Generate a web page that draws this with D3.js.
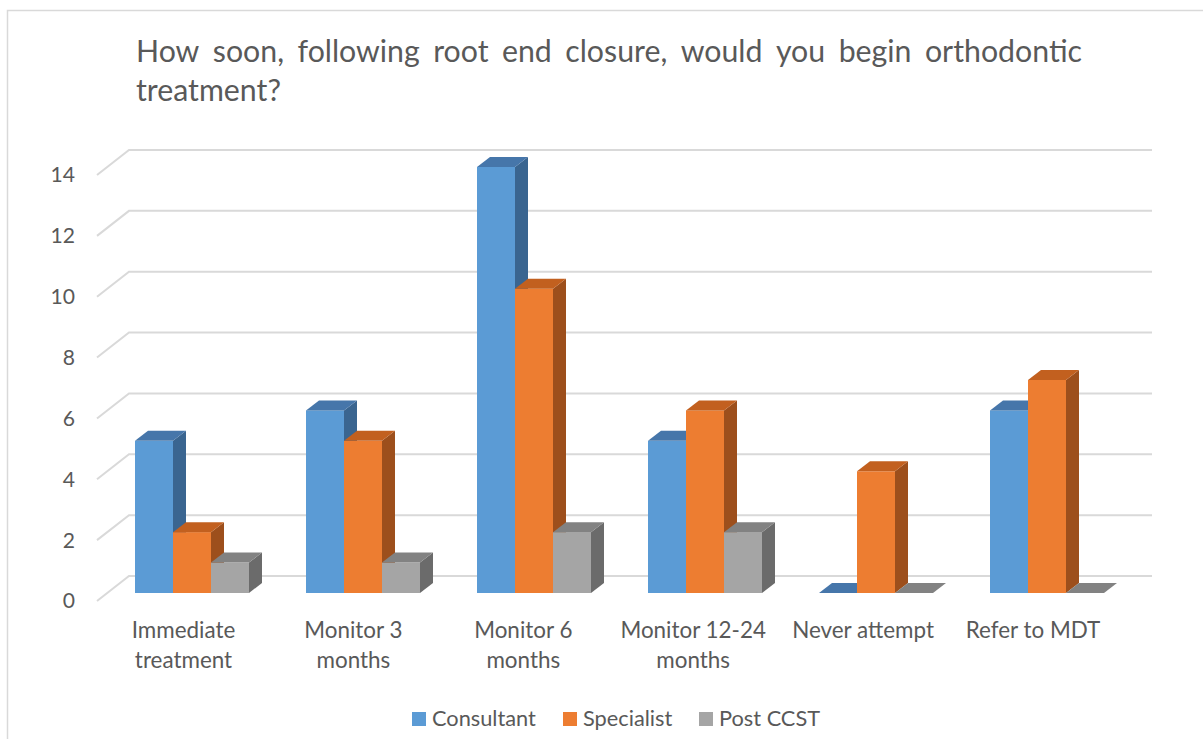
<!DOCTYPE html>
<html>
<head>
<meta charset="utf-8">
<script src="https://cdn.jsdelivr.net/npm/d3@7"></script>
<style>
  html, body { margin: 0; padding: 0; background: #fff; }
  svg { display: block; }
</style>
</head>
<body>
<svg id="chart" width="1203" height="739"></svg>
<script>
// ---------------- DATA ----------------
const categories = ["Immediate treatment", "Monitor 3 months", "Monitor 6 months", "Monitor 12-24 months", "Never attempt", "Refer to MDT"];
const categoryLines = [["Immediate", "treatment"], ["Monitor 3", "months"], ["Monitor 6", "months"], ["Monitor 12-24", "months"], ["Never attempt"], ["Refer to MDT"]];
const seriesNames = ["Consultant", "Specialist", "Post CCST"];
const consultant = [5, 6, 14, 5, 0, 6];
const specialist = [2, 5, 10, 6, 4, 7];
const postCCST = [1, 1, 2, 2, 0, 0];
const yTicks = [0, 2, 4, 6, 8, 10, 12, 14];
const titleLine1 = "How soon, following root end closure, would you begin orthodontic";
const titleLine2 = "treatment?";

// ---------------- STYLE ----------------
const FONT = "Lato, 'Open Sans', sans-serif";
const TEXT = "#595959";
const GRID = "#D9D9D9";
const colors = {
  Consultant: { front: "#5B9BD5", top: "#4676AA", side: "#3A6590" },
  Specialist: { front: "#ED7D31", top: "#C2601F", side: "#9D4F1C" },
  "Post CCST": { front: "#A5A5A5", top: "#828282", side: "#6B6B6B" }
};
const DX = 13, DY = -10;          // bar depth offset
const BACK_DY = -17;              // back wall vs front plane
const SLANT_DX = 32, SLANT_DY = 25;

const svg = d3.select("#chart");

function fitSize(text, width) {
  const t = svg.append("text").attr("font-family", FONT).attr("font-size", 100).text(text);
  const w = t.node().getComputedTextLength();
  t.remove();
  return 100 * width / w;
}

// chart border
svg.append("rect").attr("x", 7.5).attr("y", 10.5).attr("width", 1400).attr("height", 900)
  .attr("fill", "#fff").attr("stroke", GRID).attr("stroke-width", 1.5);

// scales
const y = d3.scaleLinear().domain([0, 14]).range([593, 167]);
const x0 = d3.scaleBand().domain(categories).range([106.5, 1132.5]).paddingInner(57 / 171).paddingOuter(28.5 / 171);
const x1 = d3.scaleBand().domain(seriesNames).range([0, x0.bandwidth()]);
const xLabel = d3.scalePoint().domain(categories).range([183.5, 1033]);

// gridlines (back wall + side wall slants)
const gridG = svg.append("g");
yTicks.forEach(v => {
  const yb = y(v) + BACK_DY;
  gridG.append("path")
    .attr("d", `M97,${yb + SLANT_DY} L${97 + SLANT_DX},${yb} L1152,${yb}`)
    .attr("fill", "none").attr("stroke", GRID).attr("stroke-width", 2);
});

// y tick labels
const tickSize = fitSize("14", 24.5);
svg.append("g").selectAll("text").data(yTicks).join("text")
  .attr("x", 75).attr("y", d => y(d) + BACK_DY + SLANT_DY)
  .attr("dy", "0.35em").attr("text-anchor", "end")
  .attr("font-family", FONT).attr("font-size", tickSize).attr("fill", TEXT)
  .text(d => d);

// bars
const seriesData = [consultant, specialist, postCCST];
const barsG = svg.append("g");
categories.forEach((cat, ci) => {
  seriesNames.forEach((s, si) => {
    const v = seriesData[si][ci];
    const xl = x0(cat) + x1(s);
    const xr = xl + x1.bandwidth();
    const yt = y(v), yb = y(0);
    const c = colors[s];
    const g = barsG.append("g");
    if (v > 0) {
      g.append("rect").attr("x", xl).attr("y", yt).attr("width", xr - xl).attr("height", yb - yt)
        .attr("fill", c.front);
      g.append("path")
        .attr("d", `M${xr},${yt} L${xr + DX},${yt + DY} L${xr + DX},${yb + DY} L${xr},${yb} Z`)
        .attr("fill", c.side);
    }
    g.append("path")
      .attr("d", `M${xl},${yt} L${xl + DX},${yt + DY} L${xr + DX},${yt + DY} L${xr},${yt} Z`)
      .attr("fill", c.top);
  });
});

// category labels
const catSize = fitSize("Never attempt", 142);
const labG = svg.append("g");
categories.forEach((cat, ci) => {
  const t = labG.append("text").attr("x", xLabel(cat)).attr("y", 638)
    .attr("text-anchor", "middle").attr("font-family", FONT).attr("font-size", catSize).attr("fill", TEXT);
  categoryLines[ci].forEach((ln, li) => {
    t.append("tspan").attr("x", xLabel(cat)).attr("y", 638 + li * 30).text(ln);
  });
});

// title (justified first line)
const titleSize = fitSize(titleLine2, 145);
const words = titleLine1.split(" ");
const wWidths = words.map(w => {
  const t = svg.append("text").attr("font-family", FONT).attr("font-size", titleSize).text(w);
  const wd = t.node().getComputedTextLength(); t.remove(); return wd;
});
const tLeft = 136, tRight = 1082;
const gap = (tRight - tLeft - d3.sum(wWidths)) / (words.length - 1);
let cx = tLeft;
const titleG = svg.append("g").attr("font-family", FONT).attr("font-size", titleSize).attr("fill", TEXT);
words.forEach((w, i) => {
  titleG.append("text").attr("x", cx).attr("y", 62).text(w);
  cx += wWidths[i] + gap;
});
titleG.append("text").attr("x", tLeft).attr("y", 101).text(titleLine2);

// legend
const legSize = fitSize("Consultant", 104);
const legX = [412, 563, 699];
const legG = svg.append("g");
seriesNames.forEach((s, i) => {
  legG.append("rect").attr("x", legX[i]).attr("y", 712).attr("width", 14).attr("height", 14)
    .attr("fill", colors[s].front);
  legG.append("text").attr("x", legX[i] + 20).attr("y", 726)
    .attr("font-family", FONT).attr("font-size", legSize).attr("fill", TEXT).text(s);
});
</script>
</body>
</html>
